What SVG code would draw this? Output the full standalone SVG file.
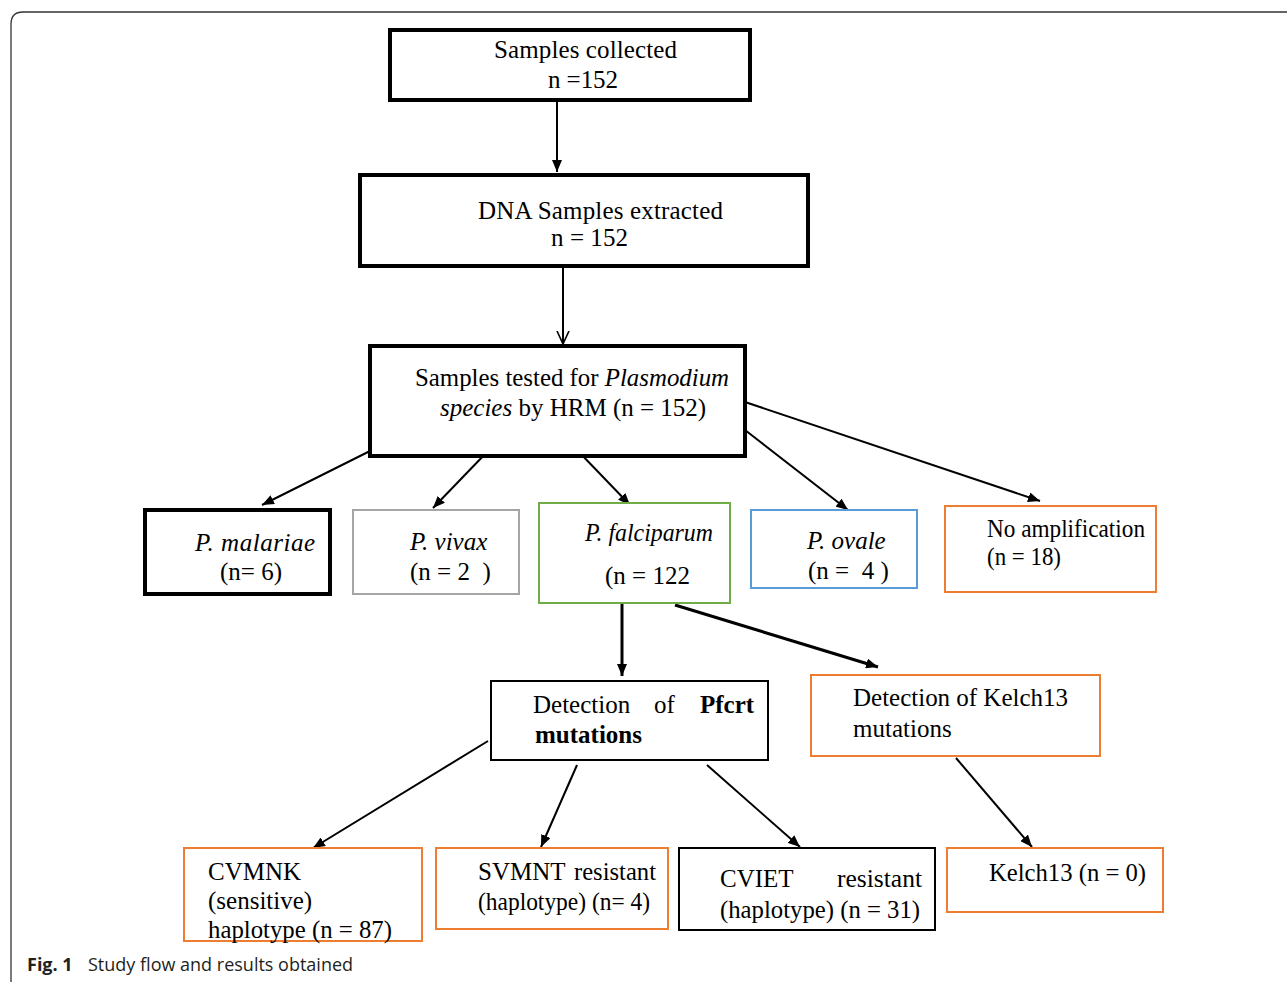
<svg xmlns="http://www.w3.org/2000/svg" width="1287" height="982" viewBox="0 0 1287 982">
<defs>
<marker id="ah" viewBox="0 0 12 10" refX="12" refY="5" markerWidth="12" markerHeight="10" markerUnits="userSpaceOnUse" orient="auto">
<path d="M0,0 L12,5 L0,10 Z" fill="#000"/>
</marker>
<marker id="av" viewBox="0 0 14 14" refX="13" refY="7" markerWidth="14" markerHeight="14" markerUnits="userSpaceOnUse" orient="auto">
<path d="M0,1 L13,7 L0,13" fill="none" stroke="#000" stroke-width="1.6"/>
</marker>
<style>
.t{font-family:"Liberation Serif","Times New Roman",serif;font-size:25px;fill:#000}
.i{font-style:italic}
.b{font-weight:bold}
.thick{fill:#fff;stroke:#000;stroke-width:4}
.thin{fill:#fff;stroke:#000;stroke-width:2}
.or{fill:#fff;stroke:#ed7d31;stroke-width:2}
.gr{fill:#fff;stroke:#a5a5a5;stroke-width:2}
.gn{fill:#fff;stroke:#70ad47;stroke-width:2}
.bl{fill:#fff;stroke:#5b9bd5;stroke-width:2}
.c{fill:none;stroke:#000;stroke-width:2}
.c3{fill:none;stroke:#000;stroke-width:3}
.cap{font-family:"Open Sans","Noto Sans",sans-serif;font-size:18px;fill:#231f20}
</style>
</defs>
<rect width="1287" height="982" fill="#fff"/>
<path d="M11,982 V24 Q11,12 23,12 H1287" fill="none" stroke="#333" stroke-width="1.3"/>

<g id="connectors">
<line class="c" x1="557" y1="100" x2="557" y2="172" marker-end="url(#ah)"/>
<line class="c" x1="563" y1="266" x2="563" y2="344" marker-end="url(#av)"/>
<line class="c" x1="370" y1="451" x2="262" y2="505" marker-end="url(#ah)"/>
<line class="c" x1="488" y1="451" x2="433" y2="508" marker-end="url(#ah)"/>
<line class="c" x1="578" y1="451" x2="630" y2="505" marker-end="url(#ah)"/>
<line class="c" x1="745" y1="430" x2="848" y2="510" marker-end="url(#ah)"/>
<line class="c" x1="745" y1="402" x2="1040" y2="501" marker-end="url(#ah)"/>
<line class="c3" x1="622" y1="603" x2="622" y2="676" marker-end="url(#ah)"/>
<line class="c3" x1="675" y1="605" x2="878" y2="667" marker-end="url(#ah)"/>
<line class="c" x1="488" y1="741" x2="313" y2="848" marker-end="url(#ah)"/>
<line class="c" x1="577" y1="765" x2="541" y2="847" marker-end="url(#ah)"/>
<line class="c" x1="707" y1="765" x2="800" y2="847" marker-end="url(#ah)"/>
<line class="c" x1="956" y1="758" x2="1032" y2="847" marker-end="url(#ah)"/>
</g>

<g id="n-collected">
<rect class="thick" x="390" y="30" width="360" height="70"/>
<text class="t" x="494" y="58" textLength="183">Samples collected</text>
<text class="t" x="548" y="88" textLength="70">n =152</text>
</g>

<g id="n-dna">
<rect class="thick" x="360" y="175" width="448" height="91"/>
<text class="t" x="478" y="219" textLength="245">DNA Samples extracted</text>
<text class="t" x="551" y="246" textLength="77">n = 152</text>
</g>

<g id="n-hrm">
<rect class="thick" x="370" y="346" width="375" height="110"/>
<text class="t" x="415" y="386" textLength="314" lengthAdjust="spacingAndGlyphs">Samples tested for <tspan class="i">Plasmodium</tspan></text>
<text class="t" x="440" y="416"><tspan class="i">species</tspan> by HRM (n = 152)</text>
</g>

<g id="n-malariae">
<rect class="thick" x="145" y="510" width="185" height="84"/>
<text class="t i" x="195" y="551" textLength="120">P. malariae</text>
<text class="t" x="220" y="580">(n= 6)</text>
</g>

<g id="n-vivax">
<rect class="gr" x="353" y="510" width="166" height="84"/>
<text class="t i" x="410" y="550">P. vivax</text>
<text class="t" x="410" y="580" xml:space="preserve">(n = 2  )</text>
</g>

<g id="n-falciparum">
<rect class="gn" x="539" y="503" width="191" height="100"/>
<text class="t i" x="585" y="541" textLength="128" lengthAdjust="spacingAndGlyphs">P. falciparum</text>
<text class="t" x="605" y="584">(n = 122</text>
</g>

<g id="n-ovale">
<rect class="bl" x="751" y="510" width="166" height="78"/>
<text class="t i" x="807" y="549">P. ovale</text>
<text class="t" x="808" y="579" xml:space="preserve">(n =  4 )</text>
</g>

<g id="n-noamp">
<rect class="or" x="945" y="506" width="211" height="86"/>
<text class="t" x="987" y="537" textLength="158" lengthAdjust="spacingAndGlyphs">No amplification</text>
<text class="t" x="987" y="565" textLength="74" lengthAdjust="spacingAndGlyphs">(n = 18)</text>
</g>

<g id="n-pfcrt">
<rect class="thin" x="491" y="681" width="277" height="79"/>
<text class="t" x="533" y="713">Detection</text>
<text class="t" x="654" y="713">of</text>
<text class="t b" x="700" y="713">Pfcrt</text>
<text class="t b" x="535" y="743">mutations</text>
</g>

<g id="n-kelchdet">
<rect class="or" x="811" y="675" width="289" height="81"/>
<text class="t" x="853" y="706" textLength="215">Detection of Kelch13</text>
<text class="t" x="853" y="737">mutations</text>
</g>

<g id="n-cvmnk">
<rect class="or" x="184" y="848" width="238" height="93"/>
<text class="t" x="208" y="880">CVMNK</text>
<text class="t" x="208" y="909">(sensitive)</text>
<text class="t" x="208" y="938" textLength="184" lengthAdjust="spacingAndGlyphs">haplotype (n = 87)</text>
</g>

<g id="n-svmnt">
<rect class="or" x="436" y="848" width="232" height="81"/>
<text class="t" x="478" y="880">SVMNT</text>
<text class="t" x="574" y="880" textLength="82" lengthAdjust="spacingAndGlyphs">resistant</text>
<text class="t" x="478" y="910" textLength="172" lengthAdjust="spacingAndGlyphs">(haplotype) (n= 4)</text>
</g>

<g id="n-cviet">
<rect class="thin" x="679" y="848" width="256" height="82" stroke-width="1.5"/>
<text class="t" x="720" y="887">CVIET</text>
<text class="t" x="837" y="887" textLength="85" lengthAdjust="spacingAndGlyphs">resistant</text>
<text class="t" x="720" y="918" textLength="200" lengthAdjust="spacingAndGlyphs">(haplotype) (n = 31)</text>
</g>

<g id="n-kelch0">
<rect class="or" x="947" y="848" width="216" height="64"/>
<text class="t" x="989" y="881" textLength="157" lengthAdjust="spacingAndGlyphs">Kelch13 (n = 0)</text>
</g>

<text class="cap" x="27" y="971"><tspan font-weight="bold">Fig. 1</tspan><tspan x="88">Study flow and results obtained</tspan></text>
</svg>
